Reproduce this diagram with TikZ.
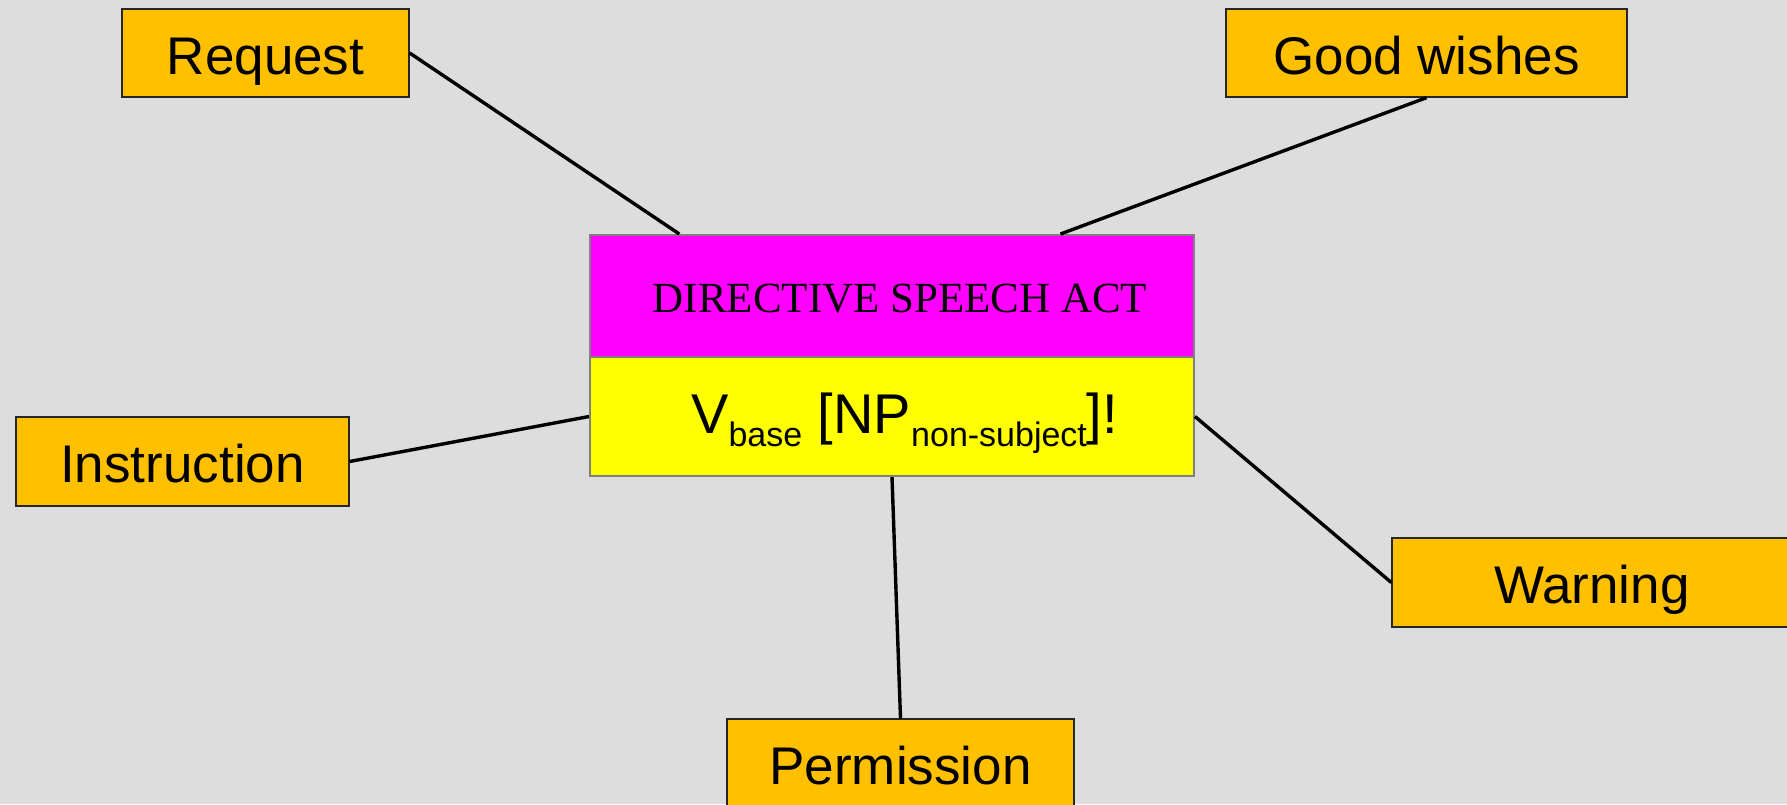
\documentclass[tikz,border=0pt]{standalone}
\usepackage{fontspec}
\usetikzlibrary{calc}
\setmainfont{Liberation Sans}
\newfontfamily\arialf{Liberation Sans}
\newfontfamily\timesf{Liberation Serif}
\definecolor{bgc}{RGB}{221,221,221}
\definecolor{orangebox}{RGB}{255,192,0}
\definecolor{magbox}{RGB}{255,0,255}
\definecolor{yelbox}{RGB}{255,255,0}
\definecolor{graybd}{RGB}{128,128,128}
\tikzset{
  leaf/.style={draw=black!85, line width=1.3pt, fill=orangebox, rectangle, inner sep=0pt,
    font=\arialf\fontsize{53}{60}\selectfont, text height=42pt, text depth=0pt},
  part/.style={draw=graybd, line width=2pt, rectangle, inner sep=0pt, minimum width=604pt},
  link/.style={draw=black, line width=3.4pt}
}
\begin{document}
\begin{tikzpicture}[x=1pt,y=-1pt]
\fill[bgc] (0,0) rectangle (1787,804);
\useasboundingbox (0,0) rectangle (1787,804);

% central box
\node[part, fill=magbox, minimum height=122pt] (top) at (892,296) {};
\node[part, fill=yelbox, minimum height=119pt] (bot) at (892,416.5) {};
\node[anchor=base, inner sep=0pt, font=\timesf\fontsize{43}{48}\selectfont] (toptxt) at (900,312) {DIRECTIVE SPEECH ACT};
\node[anchor=base west, inner sep=0pt, font=\arialf\fontsize{56}{60}\selectfont] (bottxt) at (691,433)
  {V\raisebox{-13pt}{\fontsize{34}{40}\selectfont base} [NP\raisebox{-13pt}{\fontsize{34}{40}\selectfont non-subject}]!};

% leaves
\node[leaf, minimum width=287pt, minimum height=88pt] (req) at (265.5,53) {Request};
\node[leaf, minimum width=401pt, minimum height=88pt] (gw) at (1426.5,53) {Good wishes};
\node[leaf, minimum width=333pt, minimum height=89pt] (ins) at (182.5,461.5) {Instruction};
\node[leaf, minimum width=400pt, minimum height=89pt] (war) at (1592,582.5) {Warning};
\node[leaf, minimum width=347pt, minimum height=89pt] (per) at (900.5,763.5) {Permission};

% connectors
\coordinate (reqend) at ($(top.north west)!0.149!(top.north east)$);
\coordinate (gwend) at ($(top.north west)!0.778!(top.north east)$);
\draw[link] (req.east) -- (reqend);
\draw[link] (gw.south) -- (gwend);
\draw[link] (ins.east) -- (bot.west);
\draw[link] (war.west) -- (bot.east);
\draw[link] (per.north) -- (bot.south);
\end{tikzpicture}
\end{document}
